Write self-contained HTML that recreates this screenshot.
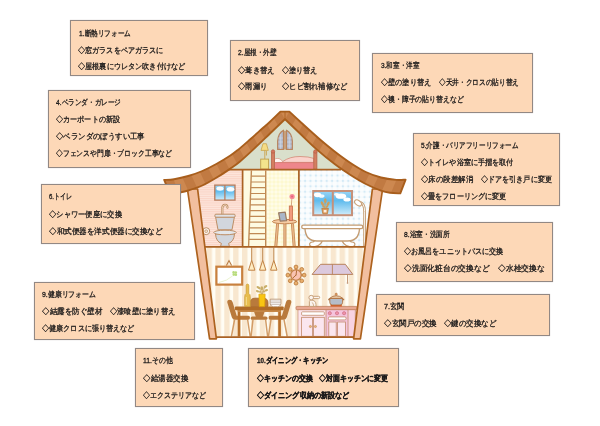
<!DOCTYPE html>
<html lang="ja"><head><meta charset="utf-8"><title>リフォームメニュー</title>
<style>
html,body{margin:0;padding:0}
body{width:600px;height:426px;position:relative;overflow:hidden;background:#fff;font-family:"Liberation Sans",sans-serif}
svg{position:absolute;left:0;top:0}
.b{will-change:transform;position:absolute;box-sizing:border-box;background:#fdd8b7;border:1px solid #928884;box-shadow:0 0 0.7px #928884}
.b span{position:absolute;transform-origin:0 50%;white-space:nowrap;font-size:8px;line-height:12px;height:12px;color:#1c1a1a;-webkit-text-stroke:0.3px #1c1a1a}
.k span{font-weight:bold}
.b i{font-style:normal;letter-spacing:0}
</style></head><body>
<svg width="600" height="426" viewBox="0 0 600 426">
<defs>
<pattern id="pk" width="2" height="2.2" patternUnits="userSpaceOnUse"><rect width="2" height="2.2" fill="#fde6dc"/><rect width="2" height="1.1" fill="#fad4c7"/></pattern>
<pattern id="yl" width="4" height="4" patternUnits="userSpaceOnUse"><rect width="4" height="4" fill="#fffce8"/><path d="M2 0L4 2L2 4L0 2Z" fill="#fdf8d0"/></pattern>
<pattern id="bl" width="5.400" height="5.400" patternUnits="userSpaceOnUse"><rect width="5.400" height="5.400" fill="#fbfdfe"/><path d="M0 2.700H5.400M2.700 0V5.400" stroke="#f1f8fc" stroke-width="0.900"/><circle cx="2.700" cy="2.700" r="1.150" fill="#d4eaf6"/></pattern>
<pattern id="st" width="8.870" height="20" x="206.540" patternUnits="userSpaceOnUse"><rect width="8.870" height="20" fill="#fffdf4"/><rect width="5.400" height="20" fill="#f8e7cf"/></pattern>
<linearGradient id="sky" x1="0" y1="0" x2="0" y2="1"><stop offset="0" stop-color="#9bd5f4"/><stop offset="0.400" stop-color="#5fbbed"/><stop offset="1" stop-color="#d0ecfa"/></linearGradient>
<clipPath id="hc"><path d="M285 114L300 127L320 144L335 157L350 168L366 177L381 183L382 190L360 339L210 339L188 190L189 183L204 177L220 168L235 157L250 144L270 127Z"/></clipPath>
</defs>
<g clip-path="url(#hc)">
<rect x="180" y="110" width="210" height="60" fill="#d9dfcb"/>
<rect x="180" y="169.5" width="62.5" height="77" fill="url(#pk)"/>
<rect x="242.500" y="169.500" width="25" height="77" fill="#fefbe2"/>
<rect x="266.400" y="169.500" width="33" height="77" fill="url(#yl)"/>
<rect x="299" y="169.5" width="90" height="77" fill="url(#bl)"/>
<rect x="180" y="246.5" width="210" height="91" fill="url(#st)"/>
</g>
<!-- ATTIC -->
<g>
<rect x="283" y="131" width="4" height="18.500" fill="#c9a582"/>
<path d="M277.700 149.400V141Q278.200 133 283.500 130.200V149.400Z" fill="#b3bccf" stroke="#b8845e" stroke-width="1.300" stroke-linejoin="round"/>
<path d="M292.300 149.400V141Q291.800 133 286.500 130.200V149.400Z" fill="#b3bccf" stroke="#b8845e" stroke-width="1.300" stroke-linejoin="round"/>
<path d="M280.700 134V149M289.300 134V149M278.300 138H283M278.300 142H283M278.300 146H283M287 138H291.700M287 142H291.700M287 146H291.700" stroke="#d6dce8" stroke-width="0.600"/>
<path d="M263 143.700H266.400L268.300 150.400H261Z" fill="#f5dc84" stroke="#c9a44e" stroke-width="0.800" stroke-linejoin="round"/>
<path d="M264.800 150.400V159M266.400 151V155.500" stroke="#c9a44e" stroke-width="0.900"/>
<rect x="260.700" y="159.100" width="7.900" height="10" fill="#f3e48c" stroke="#c0a04c" stroke-width="0.900"/>
<rect x="274.600" y="161.500" width="39.200" height="7.700" fill="#ee868b"/>
<path d="M274.600 162.400V160Q275.500 158.300 278 158.600Q281.500 159 282.600 161.600Q290 156.400 300 156.500Q309 156.600 313.800 158.400V162.400Z" fill="#fad3cc" stroke="#cf7e6a" stroke-width="0.700" stroke-linejoin="round"/>
<path d="M274.800 162.200V160Q275.600 158.500 278 158.800Q281.300 159.200 282.400 161.800Z" fill="#fff6f2"/>
<path d="M274.600 162.600H313.800" stroke="#d97a72" stroke-width="0.700"/>
<rect x="271.500" y="152.200" width="3.100" height="17" fill="#d47e60" stroke="#b8644a" stroke-width="0.800"/>
<circle cx="273" cy="151.500" r="1.700" fill="#d4745c" stroke="#b8644a" stroke-width="0.800"/>
<rect x="313.800" y="152.200" width="3.100" height="17" fill="#d47e60" stroke="#b8644a" stroke-width="0.800"/>
<circle cx="315.400" cy="151.500" r="1.700" fill="#d4745c" stroke="#b8644a" stroke-width="0.800"/>
</g>
<!-- TOILET ROOM -->
<g>
<rect x="214.8" y="185.1" width="20.2" height="15" fill="url(#sky)" stroke="#b87a5a" stroke-width="1.3"/>
<ellipse cx="220" cy="188.6" rx="3.6" ry="2.2" fill="#fff" opacity="0.95"/><ellipse cx="230.5" cy="189.2" rx="3.8" ry="2.3" fill="#fff" opacity="0.95"/>
<path d="M224.9 185V200" stroke="#b87a5a" stroke-width="1.2"/>
<path d="M222.3 214.5V208.6Q222.3 204.8 225 204.8Q227.6 204.8 227.4 207.6" fill="none" stroke="#bd8e66" stroke-width="2.2" stroke-linecap="round"/>
<path d="M222.3 214.5V208.6Q222.3 204.8 225 204.8Q227.6 204.8 227.4 207.6" fill="none" stroke="#f3dcc4" stroke-width="0.8" stroke-linecap="round"/>
<path d="M215.600 217H234.400L232 229.800H218Z" fill="#d2d6dd" stroke="#bd8e66" stroke-width="1"/>
<rect x="214.900" y="214.200" width="20.200" height="3" rx="1" fill="#e0e3e8" stroke="#bd8e66" stroke-width="1"/>
<path d="M215.500 234Q216 241.500 221.400 243.400L220.600 246.300H229.400L228.600 243.400Q234 241.500 234.500 234Z" fill="#d2d6dd" stroke="#bd8e66" stroke-width="1"/>
<ellipse cx="225" cy="232.500" rx="11.300" ry="2.300" fill="#e4e7eb" stroke="#bd8e66" stroke-width="1"/>
<circle cx="206.200" cy="231.200" r="3.500" fill="#fdf6ee" stroke="#bd8e66" stroke-width="1"/><circle cx="206.200" cy="231.200" r="1.400" fill="#f2e2d0" stroke="#bd8e66" stroke-width="0.700"/>
</g>
<!-- LADDER ROOM -->
<g fill="none" stroke="#c08a54">
<path d="M251.23 176.2H265.700M251.01 182.0H265.700M250.80 187.7H265.700M250.58 193.5H265.700M250.36 199.2H265.700M250.15 204.9H265.700M249.93 210.7H265.700M249.72 216.4H265.700M249.50 222.2H265.700M249.28 227.9H265.700M249.07 233.6H265.700M248.85 239.4H265.700" stroke-width="1.200"/>
<path d="M251.400 170.500L248.600 246.500M265.700 170.500V246.500" stroke-width="1.400"/>
</g>
<g>
<path d="M277.600 223.500L275.800 246.500M284.900 224V246.500M292.400 223.500L294.200 246.500" stroke="#c38450" stroke-width="3"/>
<path d="M277.600 223.500L275.800 246.500M284.900 224V246.500M292.400 223.500L294.200 246.500" stroke="#eab98a" stroke-width="1.500"/>
<ellipse cx="284.600" cy="221.600" rx="12.200" ry="2.200" fill="#f5cba2" stroke="#c38450" stroke-width="1"/>
<rect x="289.300" y="206" width="3.300" height="14.600" fill="#f19a7c" stroke="#c9704c" stroke-width="0.800"/>
<path d="M291.300 206L291.900 198.500" stroke="#c38450" stroke-width="0.700"/>
<circle cx="292.100" cy="196.500" r="2.600" fill="#f58a9a"/><circle cx="292.100" cy="196.500" r="1" fill="#e8607a"/>
<path d="M278.600 212.800L285.200 212.200L286.600 220.600L280.200 221.200Z" fill="#aab6c8" stroke="#9a7a62" stroke-width="1.200" stroke-linejoin="round"/>
</g>
<!-- BATHROOM -->
<g>
<rect x="313.200" y="191" width="38.800" height="24.200" fill="url(#sky)" stroke="#c6917a" stroke-width="2"/>
<ellipse cx="317.500" cy="194.800" rx="3.600" ry="2.400" fill="#fff"/><ellipse cx="321.500" cy="196" rx="3" ry="1.800" fill="#fff" opacity="0.900"/>
<ellipse cx="341" cy="196.200" rx="5.200" ry="2.600" fill="#fff"/><ellipse cx="347" cy="199.400" rx="3.600" ry="2" fill="#fff"/><ellipse cx="336.500" cy="194.500" rx="2.500" ry="1.400" fill="#fff" opacity="0.900"/>
<path d="M332.800 191V215" stroke="#c6917a" stroke-width="2"/>
<path d="M321.800 208.300H328.400L327.400 213.800H322.800Z" fill="#e09a58" stroke="#b87434" stroke-width="0.700"/>
<rect x="323.700" y="210" width="2.800" height="2.400" fill="#fbeee0"/>
<path d="M325 208.300V203" stroke="#b48c4c" stroke-width="0.700"/>
<g fill="#cf9f5c"><ellipse cx="322.300" cy="203.600" rx="1.300" ry="2.400" transform="rotate(-30 322.300 203.600)"/><ellipse cx="325.300" cy="200.800" rx="1.300" ry="2.500"/><ellipse cx="328.100" cy="203.800" rx="1.300" ry="2.400" transform="rotate(30 328.100 203.800)"/><ellipse cx="323.600" cy="206.500" rx="1" ry="1.700" transform="rotate(-50 323.600 206.500)"/><ellipse cx="327" cy="206.600" rx="1" ry="1.600" transform="rotate(50 327 206.600)"/></g>
<path d="M364.600 246V211.500Q364.600 203 359.500 202" fill="none" stroke="#c39a6e" stroke-width="2.700"/>
<path d="M364.600 246V211.500Q364.600 203 359.500 202" fill="none" stroke="#fff" stroke-width="0.900"/>
<ellipse cx="358.100" cy="202.900" rx="3.900" ry="2.400" transform="rotate(35 358.100 202.900)" fill="#fff" stroke="#c9a27a" stroke-width="1.100"/>
<path d="M322.500 238.500Q322.500 245 315 246.600Q309.300 247.200 309.600 244Q310 241.800 313 242Q315.200 241 314.600 237.500Z" fill="#fff" stroke="#c49c72" stroke-width="1.200"/>
<path d="M342 238.500Q342 245 349.500 246.600Q355.200 247.200 354.900 244Q354.500 241.800 351.500 242Q349.300 241 349.900 237.500Z" fill="#fff" stroke="#c49c72" stroke-width="1.200"/>
<path d="M305 228.400Q305.500 241 317 241H347.500Q359 241 359.500 228.400Z" fill="#fff" stroke="#c49c72" stroke-width="1.300"/>
<rect x="301.700" y="225.200" width="61.100" height="3.500" rx="1.750" fill="#fff" stroke="#c49c72" stroke-width="1.300"/>
</g>
<!-- FIRST FLOOR -->
<g>
<path d="M226.4 265.6L229 260.6L231.6 265.6" fill="none" stroke="#b87a42" stroke-width="1.1"/>
<rect x="216.4" y="266.7" width="25.8" height="17.9" fill="#fff" stroke="#c8803e" stroke-width="2.2"/>
<path d="M219 282.5Q227 281 232.5 276" fill="none" stroke="#e3efc2" stroke-width="0.8"/>
<circle cx="233.6" cy="272.4" r="1.3" fill="#b9dc7c"/><circle cx="235.8" cy="272.6" r="1.3" fill="#b9dc7c"/><circle cx="233.8" cy="274.6" r="1.3" fill="#b9dc7c"/><circle cx="235.9" cy="274.8" r="1.3" fill="#b9dc7c"/>
<path d="M251.7 247.5V260.5M262.7 247.5V260.5M273.8 247.5V260.5" stroke="#c08a52" stroke-width="1"/>
<path d="M251.7 260.3L254.9 270.2H248.5ZM262.7 260.3L265.9 270.2H259.5ZM273.8 260.3L277 270.2H270.6Z" fill="#ffecc2" stroke="#c08244" stroke-width="1" stroke-linejoin="round"/>
</g>
<!-- clock -->
<path d="M296 275.100L304.10 275.10M296 275.100L301.73 280.83M296 275.100L296.00 283.20M296 275.100L290.27 280.83M296 275.100L287.90 275.10M296 275.100L290.27 269.37M296 275.100L296.00 267.00M296 275.100L301.73 269.37" stroke="#c08244" stroke-width="1.200"/>
<g fill="#e8ae6c" stroke="#b9783a" stroke-width="0.800"><circle cx="304.10" cy="275.10" r="1.900"/><circle cx="301.73" cy="280.83" r="1.900"/><circle cx="296.00" cy="283.20" r="1.900"/><circle cx="290.27" cy="280.83" r="1.900"/><circle cx="287.90" cy="275.10" r="1.900"/><circle cx="290.27" cy="269.37" r="1.900"/><circle cx="296.00" cy="267.00" r="1.900"/><circle cx="301.73" cy="269.37" r="1.900"/></g>
<circle cx="296" cy="275.100" r="5.300" fill="#f9c3b2" stroke="#c4844a" stroke-width="1.400"/>
<path d="M296 275.100L296.600 270.800M296 275.100L293.300 277.600" stroke="#a8622a" stroke-width="0.900" stroke-linecap="round"/>
<!-- dining -->
<g>
<path d="M234.600 319.500L231.400 336.500M247.600 319.500L250.200 336.500M253 319.500L251 336.500M265.600 319.500L267.600 336.500M271 319.500L268.400 336.500M284 319.500L287.200 336.500" stroke="#d29c66" stroke-width="1.500"/>
<path d="M250.200 306.500V302.700Q250.200 298.200 255 298.200H263.200Q268 298.200 268 302.700V306.500Z" fill="#b97a3c" stroke="#a5642a" stroke-width="0.800"/>
<path d="M253.400 310L255.900 317H262.700L265.200 310Z" fill="#b97a3c"/>
<rect x="250.700" y="316.400" width="16.800" height="3.400" rx="1.500" fill="#b97a3c"/>
<path d="M227.300 302.400Q227 299.900 229.600 299.800Q232 299.800 232.600 302L236.700 315.700H248.400Q250 315.700 250 317.700Q250 319.700 248.400 319.700H235.200Q232.600 319.700 231.800 317.200Z" fill="#b97a3c"/>
<path d="M291.30 302.400Q291.60 299.900 289.00 299.800Q286.60 299.800 286.00 302L281.90 315.700H270.20Q268.60 315.700 268.60 317.700Q268.60 319.700 270.20 319.700H283.40Q286.00 319.700 286.80 317.200Z" fill="#b97a3c"/>
<rect x="237.700" y="310" width="2.700" height="26.600" fill="#b8702a"/><rect x="278.200" y="310" width="2.700" height="26.600" fill="#b8702a"/>
<rect x="237.700" y="310" width="43.200" height="2" fill="#c68848"/>
<rect x="235" y="306.400" width="48.700" height="3.900" rx="0.800" fill="#b06c28"/>
<path d="M246.200 293.400V285.600Q246.200 284.100 247.500 284.100Q248.800 284.100 248.800 285.600V293.400Q250.300 294.200 250.300 296.500V306.500H244.700V296.500Q244.700 294.200 246.200 293.400Z" fill="#e8bd4e" stroke="#c99a34" stroke-width="0.700"/>
<path d="M246.300 297V305" stroke="#f6de92" stroke-width="1"/>
<path d="M258.900 294.200H265.100L264.700 306.600H259.300Z" fill="#f8c512" stroke="#e0a204" stroke-width="0.700"/>
<path d="M261.500 294.200L259.500 288M262.200 294.200L264.500 287.500M262 294.200V289" stroke="#b89c58" stroke-width="0.600"/>
<g fill="#c9ae68"><ellipse cx="258.400" cy="287.500" rx="2.100" ry="1.200" transform="rotate(30 258.400 287.500)"/><ellipse cx="265.500" cy="286.600" rx="2.100" ry="1.200" transform="rotate(-35 265.500 286.600)"/><ellipse cx="261.800" cy="288.200" rx="1.400" ry="2"/><ellipse cx="257.600" cy="291.200" rx="1.800" ry="1.100" transform="rotate(20 257.600 291.200)"/><ellipse cx="266.300" cy="290.300" rx="1.800" ry="1.100" transform="rotate(-20 266.300 290.300)"/><ellipse cx="263.800" cy="291.500" rx="1.300" ry="1"/><ellipse cx="260" cy="291.800" rx="1.200" ry="0.900"/></g>
<path d="M270.200 299.200H280.900V303.500Q280.900 306.700 277.700 306.700H273.400Q270.200 306.700 270.200 303.500Z" fill="#fff" stroke="#b08a68" stroke-width="0.800"/>
<path d="M270.500 301H280.600M270.500 302.700H280.600M270.700 304.400H280.400" stroke="#b9a89c" stroke-width="0.700"/>
</g>
<!-- kitchen -->
<g>
<path d="M320.600 264.300H345.400L352.800 274.400H312.100Z" fill="#dcc9dd" stroke="#b8825c" stroke-width="1" stroke-linejoin="round"/>
<path d="M332.400 264.300V274.400" stroke="#b8825c" stroke-width="0.9"/>
<path d="M347.500 274.400V282.500" stroke="#b8825c" stroke-width="0.8"/><circle cx="347.500" cy="283" r="0.800" fill="#b8825c"/>
<rect x="298.100" y="309.500" width="57.200" height="27.300" fill="#f8d3e2" stroke="#c28a6c" stroke-width="0.9"/>
<rect x="298.500" y="309.900" width="27.400" height="26.500" fill="#fce4ec"/>
<rect x="326" y="309.900" width="22" height="26.500" fill="#f5c4dd"/>
<path d="M326 309.500V336.500M348 309.500V336.500" stroke="#c28a6c" stroke-width="0.8"/>
<rect x="301.600" y="311.800" width="22.700" height="3.500" rx="0.800" fill="#fff" stroke="#c28a6c" stroke-width="0.8"/>
<rect x="301.600" y="317.300" width="10.800" height="19" fill="#fbe6ef" stroke="#c28a6c" stroke-width="0.8"/><rect x="313.500" y="317.300" width="10.800" height="19" fill="#fbe6ef" stroke="#c28a6c" stroke-width="0.8"/>
<circle cx="310.400" cy="326.500" r="1.100" fill="#ecb574" stroke="#b87a3a" stroke-width="0.5"/><circle cx="315.400" cy="326.500" r="1.100" fill="#ecb574" stroke="#b87a3a" stroke-width="0.5"/>
<circle cx="329.800" cy="313.200" r="1.600" fill="#f092aa" stroke="#c86a7c" stroke-width="0.6"/><circle cx="337" cy="313.200" r="1.600" fill="#f092aa" stroke="#c86a7c" stroke-width="0.6"/><circle cx="344.100" cy="313.200" r="1.600" fill="#f092aa" stroke="#c86a7c" stroke-width="0.6"/>
<rect x="328.400" y="316.900" width="17.700" height="3" rx="1.200" fill="#fff" stroke="#c28a6c" stroke-width="0.8"/>
<rect x="328.800" y="322" width="7.400" height="14.300" fill="#fbe6ef" stroke="#c28a6c" stroke-width="0.8"/><rect x="337.600" y="322" width="7.800" height="14.300" fill="#fbe6ef" stroke="#c28a6c" stroke-width="0.8"/>
<rect x="296.100" y="306.400" width="60.900" height="3.300" rx="0.800" fill="#e8a892" stroke="#c08060" stroke-width="0.8"/>
<path d="M309.400 306.400V301.500Q309.400 300 311 300Q316 300.300 316 304.500V306.400Z" fill="#fbf4ee" stroke="#c39a70" stroke-width="0.900" stroke-linejoin="round"/>
<path d="M311.800 302.500Q313.600 302.800 313.600 306" fill="none" stroke="#c39a70" stroke-width="0.700"/>
<rect x="310.500" y="296.300" width="9.200" height="2.300" rx="1.150" fill="#fbf4ee" stroke="#c39a70" stroke-width="0.900"/>
<circle cx="311.200" cy="297.600" r="2.300" fill="#fbf4ee" stroke="#c39a70" stroke-width="0.900"/>
<rect x="330.600" y="304.400" width="11.200" height="2.100" fill="#dc5a24"/>
<path d="M328.200 299.600H330M342.400 299.600H344.200" stroke="#b07444" stroke-width="1.500"/>
<path d="M329.800 298.300H342.600V302.300Q342.600 305 340 305H332.400Q329.800 305 329.800 302.300Z" fill="#b5bdc9" stroke="#b07444" stroke-width="0.900"/>
<path d="M329.400 298.500Q336.200 292.800 343 298.500Z" fill="#e4c29e" stroke="#b07444" stroke-width="0.900"/>
<circle cx="336.200" cy="294.200" r="1.100" fill="#e8a060" stroke="#b07444" stroke-width="0.600"/>
</g>
<!-- structure lines -->
<g stroke="#aa6224" fill="none">
<path d="M229 169.600H341" stroke-width="1.800"/>
<path d="M242.600 169.600V246.800M298.900 169.600V246.800" stroke-width="1.700"/>
<path d="M196 246.800H374" stroke-width="1.800"/>
<path d="M210 337.200H360" stroke-width="1.800"/>
</g>
<!-- posts -->
<path d="M187.400 189L197.600 189L216.400 338.800H209.600Z" fill="#f2bf9f" stroke="#ad621e" stroke-width="1.700" stroke-linejoin="round"/>
<path d="M382.600 189L372.400 189L353.600 338.800H360.400Z" fill="#f2bf9f" stroke="#ad621e" stroke-width="1.700" stroke-linejoin="round"/>


<g stroke-linejoin="round">
<path d="M164.20 179.90C165.85 179.78 170.10 179.85 174.10 179.20C178.10 178.55 183.50 177.37 188.20 176.00C192.90 174.63 197.62 173.00 202.30 171.00C206.98 169.00 211.62 166.58 216.30 164.00C220.98 161.42 226.75 157.88 230.40 155.50C234.05 153.12 234.93 152.37 238.20 149.70C241.47 147.03 246.03 142.98 250.00 139.50C253.97 136.02 258.67 131.77 262.00 128.80C265.33 125.83 266.93 124.57 270.00 121.70C273.07 118.83 278.67 113.28 280.40 111.60L289.40 111.60C291.17 113.25 294.90 116.85 300.00 121.50C305.10 126.15 314.12 134.42 320.00 139.50C325.88 144.58 330.22 148.08 335.30 152.00C340.38 155.92 345.42 159.67 350.50 163.00C355.58 166.33 360.72 169.58 365.80 172.00C370.88 174.42 375.92 176.18 381.00 177.50C386.08 178.82 392.20 179.53 396.30 179.90C400.40 180.27 404.05 179.73 405.60 179.70L400.30 193.40C398.58 193.30 393.22 193.27 390.00 192.80C386.78 192.33 385.03 192.07 381.00 190.60C376.97 189.13 370.88 186.60 365.80 184.00C360.72 181.40 355.58 178.23 350.50 175.00C345.42 171.77 341.08 169.00 335.30 164.60C329.52 160.20 321.68 153.78 315.80 148.60C309.92 143.42 305.12 138.40 300.00 133.50C294.88 128.60 287.58 121.58 285.10 119.20L284.90 119.20C282.42 121.58 275.12 128.60 270.00 133.50C264.88 138.40 259.20 143.93 254.20 148.60C249.20 153.27 243.97 158.17 240.00 161.50C236.03 164.83 234.35 165.88 230.40 168.60C226.45 171.32 220.98 174.98 216.30 177.80C211.62 180.62 206.98 183.38 202.30 185.50C197.62 187.62 191.75 189.38 188.20 190.50C184.65 191.62 184.08 191.72 181.00 192.20C177.92 192.68 171.58 193.20 169.70 193.40Z" fill="#cd8850"/>
<path d="M280.40 111.60L279.30 112.67L278.21 113.75L277.11 114.82L276.02 115.90L274.92 116.97L273.82 118.04L278.16 125.67L279.28 124.60L280.41 123.52L281.53 122.44L282.65 121.36L283.78 120.28L284.90 119.20ZM267.10 124.33L265.95 125.34L264.79 126.35L263.63 127.36L262.48 128.37L261.34 129.39L260.19 130.41L264.67 138.62L265.79 137.54L266.92 136.46L268.04 135.38L269.16 134.30L270.29 133.22L271.41 132.15ZM253.33 136.55L252.18 137.57L251.03 138.59L249.88 139.60L248.73 140.62L247.58 141.63L246.43 142.64L251.11 151.49L252.25 150.42L253.39 149.36L254.52 148.30L255.66 147.23L256.79 146.16L257.92 145.09ZM239.46 148.66L238.28 149.64L237.09 150.61L235.90 151.57L234.69 152.52L233.45 153.43L232.20 154.31L237.10 163.86L238.32 162.89L239.52 161.90L240.71 160.89L241.89 159.88L243.06 158.85L244.22 157.81ZM224.43 159.25L223.12 160.05L221.80 160.84L220.48 161.62L219.15 162.39L217.82 163.15L216.48 163.90L221.68 174.43L222.99 173.58L224.29 172.72L225.59 171.86L226.88 170.99L228.17 170.12L229.46 169.24ZM208.34 168.20L206.97 168.87L205.58 169.53L204.19 170.17L202.78 170.79L201.37 171.39L199.95 171.97L205.58 183.91L206.96 183.19L208.33 182.45L209.69 181.69L211.04 180.92L212.39 180.13L213.73 179.34ZM191.28 175.07L189.82 175.52L188.35 175.96L186.87 176.38L185.39 176.78L183.90 177.16L182.41 177.52L188.12 190.52L189.61 190.06L191.10 189.59L192.58 189.12L194.06 188.63L195.54 188.13L197.01 187.61ZM173.38 179.31L171.86 179.49L170.33 179.63L168.80 179.72L167.27 179.79L165.73 179.84L164.20 179.90L169.70 193.40L171.25 193.25L172.80 193.11L174.35 192.96L175.90 192.81L177.45 192.65L179.00 192.47ZM289.40 111.60L290.52 112.66L291.64 113.72L292.76 114.78L293.88 115.83L295.01 116.89L296.13 117.94L291.84 125.67L290.71 124.59L289.59 123.51L288.47 122.43L287.35 121.36L286.22 120.28L285.10 119.20ZM302.95 124.19L304.09 125.23L305.23 126.27L306.36 127.30L307.51 128.34L308.65 129.38L309.79 130.41L305.27 138.65L304.16 137.56L303.05 136.46L301.94 135.38L300.82 134.29L299.70 133.21L298.58 132.14ZM316.67 136.59L317.83 137.61L318.99 138.62L320.15 139.63L321.32 140.64L322.49 141.64L323.67 142.63L318.97 151.35L317.79 150.33L316.61 149.31L315.44 148.28L314.28 147.25L313.13 146.20L311.99 145.14ZM330.82 148.50L332.03 149.45L333.24 150.40L334.46 151.35L335.68 152.29L336.90 153.23L338.13 154.16L333.43 163.17L332.21 162.21L330.98 161.24L329.77 160.28L328.55 159.30L327.34 158.32L326.13 157.34ZM345.58 159.64L346.84 160.53L348.11 161.40L349.39 162.26L350.67 163.11L351.96 163.95L353.26 164.79L348.73 173.87L347.42 173.03L346.11 172.19L344.81 171.34L343.51 170.47L342.23 169.60L340.94 168.72ZM361.16 169.59L362.51 170.33L363.87 171.05L365.25 171.74L366.65 172.40L368.05 173.03L369.47 173.64L364.76 183.46L363.39 182.73L362.02 181.98L360.67 181.21L359.32 180.43L357.98 179.64L356.65 178.83ZM378.18 176.72L379.66 177.14L381.15 177.54L382.65 177.90L384.16 178.22L385.67 178.51L387.19 178.77L381.87 190.91L380.41 190.38L378.95 189.83L377.51 189.26L376.06 188.68L374.63 188.08L373.19 187.47ZM396.37 179.91L397.90 180.00L399.45 180.03L400.99 179.99L402.53 179.91L404.06 179.80L405.60 179.70L400.30 193.40L398.74 193.34L397.19 193.29L395.63 193.23L394.08 193.16L392.52 193.06L390.97 192.92Z" fill="#c17a42"/>
<path d="M285 111.600V119" stroke="#a85e1c" stroke-width="0.8"/>
<path d="M164.20 179.90C165.85 179.78 170.10 179.85 174.10 179.20C178.10 178.55 183.50 177.37 188.20 176.00C192.90 174.63 197.62 173.00 202.30 171.00C206.98 169.00 211.62 166.58 216.30 164.00C220.98 161.42 226.75 157.88 230.40 155.50C234.05 153.12 234.93 152.37 238.20 149.70C241.47 147.03 246.03 142.98 250.00 139.50C253.97 136.02 258.67 131.77 262.00 128.80C265.33 125.83 266.93 124.57 270.00 121.70C273.07 118.83 278.67 113.28 280.40 111.60L289.40 111.60C291.17 113.25 294.90 116.85 300.00 121.50C305.10 126.15 314.12 134.42 320.00 139.50C325.88 144.58 330.22 148.08 335.30 152.00C340.38 155.92 345.42 159.67 350.50 163.00C355.58 166.33 360.72 169.58 365.80 172.00C370.88 174.42 375.92 176.18 381.00 177.50C386.08 178.82 392.20 179.53 396.30 179.90C400.40 180.27 404.05 179.73 405.60 179.70L400.30 193.40C398.58 193.30 393.22 193.27 390.00 192.80C386.78 192.33 385.03 192.07 381.00 190.60C376.97 189.13 370.88 186.60 365.80 184.00C360.72 181.40 355.58 178.23 350.50 175.00C345.42 171.77 341.08 169.00 335.30 164.60C329.52 160.20 321.68 153.78 315.80 148.60C309.92 143.42 305.12 138.40 300.00 133.50C294.88 128.60 287.58 121.58 285.10 119.20L284.90 119.20C282.42 121.58 275.12 128.60 270.00 133.50C264.88 138.40 259.20 143.93 254.20 148.60C249.20 153.27 243.97 158.17 240.00 161.50C236.03 164.83 234.35 165.88 230.40 168.60C226.45 171.32 220.98 174.98 216.30 177.80C211.62 180.62 206.98 183.38 202.30 185.50C197.62 187.62 191.75 189.38 188.20 190.50C184.65 191.62 184.08 191.72 181.00 192.20C177.92 192.68 171.58 193.20 169.70 193.40Z" fill="none" stroke="#a85e1c" stroke-width="1.9"/>
</g>

</svg>
<div class="b" style="left:70px;top:20px;width:138px;height:56px"><span style="left:8.2px;top:7.1px;transform:scaleX(0.830)"><i>1.</i>断熱リフォーム</span><span style="left:7.1px;top:24.4px;transform:scaleX(0.890)">◇窓ガラスをペアガラスに</span><span style="left:7.1px;top:40.4px;transform:scaleX(0.893)">◇屋根裏にウレタン吹き付けなど</span></div><div class="b" style="left:230px;top:40px;width:130px;height:61px"><span style="left:6.6px;top:6.3px;transform:scaleX(0.828)"><i>2.</i>屋根・外壁</span><span style="left:6.6px;top:23.6px;transform:scaleX(0.912)">◇葺き替え</span><span style="left:50.9px;top:23.6px;transform:scaleX(0.885)">◇塗り替え</span><span style="left:6.6px;top:40.1px;transform:scaleX(0.909)">◇雨漏り</span><span style="left:50.9px;top:40.1px;transform:scaleX(0.911)">◇ヒビ割れ補修など</span></div><div class="b" style="left:372px;top:53px;width:161px;height:60px"><span style="left:7.7px;top:5.6px;transform:scaleX(0.821)"><i>3.</i>和室・洋室</span><span style="left:7.7px;top:22.9px;transform:scaleX(0.893)">◇壁の塗り替え</span><span style="left:66.3px;top:22.9px;transform:scaleX(0.833)">◇天井・クロスの貼り替え</span><span style="left:7.7px;top:39.9px;transform:scaleX(0.860)">◇襖・障子の貼り替えなど</span></div><div class="b" style="left:48px;top:90px;width:143px;height:78px"><span style="left:7.0px;top:6.3px;transform:scaleX(0.827)"><i>4.</i>ベランダ・ガレージ</span><span style="left:7.0px;top:23.1px;transform:scaleX(0.889)">◇カーポートの新設</span><span style="left:7.0px;top:39.9px;transform:scaleX(0.925)">◇ベランダのぼうすい工事</span><span style="left:7.0px;top:56.9px;transform:scaleX(0.853)">◇フェンスや門扉・ブロック工事など</span></div><div class="b" style="left:413px;top:133px;width:147px;height:73px"><span style="left:6.7px;top:6.3px;transform:scaleX(0.820)"><i>5.</i>介護・バリアフリーリフォーム</span><span style="left:6.7px;top:22.9px;transform:scaleX(0.890)">◇トイレや浴室に手摺を取付</span><span style="left:6.7px;top:39.9px;transform:scaleX(0.929)">◇床の段差解消</span><span style="left:67.0px;top:39.9px;transform:scaleX(0.884)">◇ドアを引き戸に変更</span><span style="left:6.7px;top:56.9px;transform:scaleX(0.889)">◇畳をフローリングに変更</span></div><div class="b" style="left:41px;top:184px;width:140px;height:60px"><span style="left:7.2px;top:6.3px;transform:scaleX(0.758)"><i>6.</i>トイレ</span><span style="left:7.2px;top:23.6px;transform:scaleX(0.910)">◇シャワー便座に交換</span><span style="left:7.2px;top:40.9px;transform:scaleX(0.947)">◇和式便器を洋式便器に交換など</span></div><div class="b" style="left:376px;top:294px;width:174px;height:42px"><span style="left:7.0px;top:6.3px;transform:scaleX(0.913)"><i>7.</i>玄関</span><span style="left:7.0px;top:23.3px;transform:scaleX(0.941)">◇玄関戸の交換</span><span style="left:67.3px;top:23.3px;transform:scaleX(0.936)">◇鍵の交換など</span></div><div class="b" style="left:396px;top:222px;width:157px;height:60px"><span style="left:7.0px;top:5.9px;transform:scaleX(0.836)"><i>8.</i>浴室・洗面所</span><span style="left:7.0px;top:23.3px;transform:scaleX(0.887)">◇お風呂をユニットバスに交換</span><span style="left:7.0px;top:40.3px;transform:scaleX(0.969)">◇洗面化粧台の交換など</span><span style="left:101.3px;top:40.3px;transform:scaleX(0.973)">◇水栓交換な</span></div><div class="b" style="left:34px;top:282px;width:161px;height:58px"><span style="left:6.7px;top:5.9px;transform:scaleX(0.862)"><i>9.</i>健康リフォーム</span><span style="left:6.7px;top:23.3px;transform:scaleX(0.938)">◇結露を防ぐ壁材</span><span style="left:75.0px;top:23.3px;transform:scaleX(0.903)">◇漆喰壁に塗り替え</span><span style="left:6.7px;top:39.9px;transform:scaleX(0.890)">◇健康クロスに張り替えなど</span></div><div class="b k" style="left:248px;top:348px;width:151px;height:59px"><span style="left:7.5px;top:6.4px;transform:scaleX(0.786)"><i>10.</i>ダイニング・キッチン</span><span style="left:7.5px;top:23.7px;transform:scaleX(0.867)">◇キッチンの交換</span><span style="left:69.7px;top:23.7px;transform:scaleX(0.866)">◇対面キッチンに変更</span><span style="left:7.5px;top:40.8px;transform:scaleX(0.887)">◇ダイニング収納の新設など</span></div><div class="b" style="left:135px;top:348px;width:88px;height:59px"><span style="left:7.1px;top:6.1px;transform:scaleX(0.854)"><i>11.</i>その他</span><span style="left:7.1px;top:23.5px;transform:scaleX(0.940)">◇給湯器交換</span><span style="left:7.1px;top:40.8px;transform:scaleX(0.871)">◇エクステリアなど</span></div>
</body></html>
